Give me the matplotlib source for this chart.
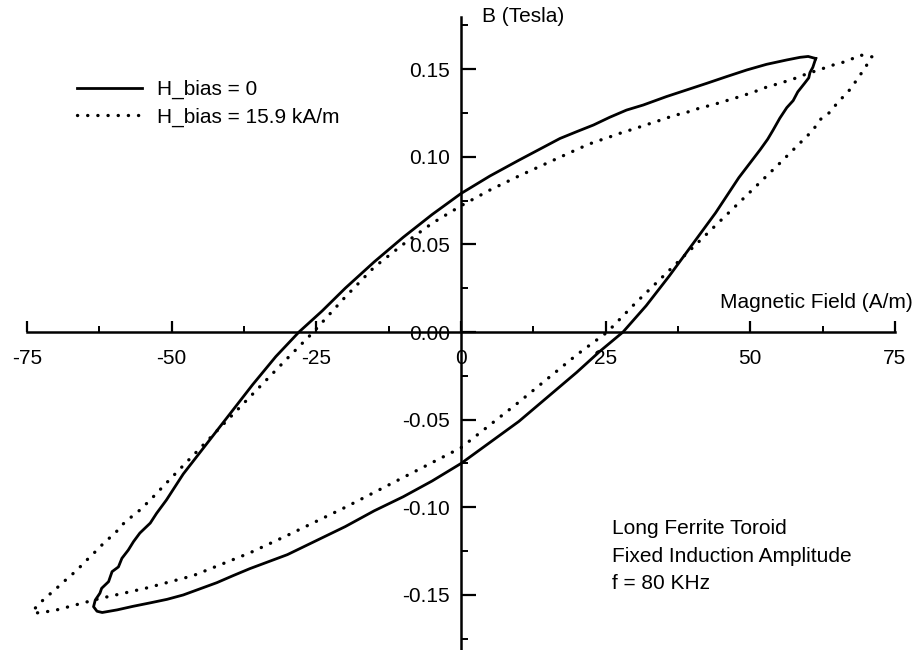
import matplotlib
matplotlib.use("Agg")
import matplotlib.pyplot as plt
from matplotlib.ticker import FixedLocator, FuncFormatter

plt.rcParams['font.family'] = ['Liberation Sans', 'DejaVu Sans']
plt.rcParams['axes.unicode_minus'] = False

# ---- data (H in A/m, B in Tesla) ----
# H_bias = 0 : descending (upper) branch, from top-right tip to bottom-left tip
solid_desc_H = [61.3, 60.0, 58.6, 56.3, 52.8, 49.4, 45.9, 42.5, 39.0, 35.5, 31.5, 28.6, 25.7,
                22.9, 20.0, 17.1, 10, 5, 0, -5, -10, -15, -20, -24, -28, -32, -36, -40, -44,
                -48, -50.9, -52.6, -53.7, -55.5, -56.6, -57.5, -58.6, -59.2, -60.3, -60.9,
                -62.1, -62.4, -63.2, -63.5, -62.9]
solid_desc_B = [0.1560, 0.1572, 0.1567, 0.1552, 0.1527, 0.1495, 0.1457, 0.1419, 0.1381, 0.1343,
                0.1295, 0.1266, 0.1225, 0.1181, 0.1143, 0.1104, 0.098, 0.089, 0.079, 0.067,
                0.054, 0.040, 0.025, 0.012, 0.0, -0.014, -0.030, -0.047, -0.064, -0.081,
                -0.0958, -0.1034, -0.109, -0.1147, -0.1196, -0.1244, -0.1291, -0.134, -0.1367,
                -0.1424, -0.1462, -0.149, -0.1529, -0.1567, -0.1593]
# H_bias = 0 : ascending (lower) branch, from bottom-left tip to top-right tip
solid_asc_H = [-62.0, -59.4, -56.7, -53.7, -50.8, -48.0, -45.1, -42.2, -39.4, -36.5, -30, -25,
               -20, -15, -10, -5, 0, 5, 10, 15, 20, 24, 28, 32, 36, 40, 44, 48, 51.7, 53.0,
               53.9, 55.1, 56.3, 57.4, 58.2, 59.4, 60.1, 60.3, 60.8, 61.3]
solid_asc_B = [-0.160, -0.1585, -0.1565, -0.1545, -0.1525, -0.150, -0.1465, -0.143, -0.139,
               -0.135, -0.127, -0.119, -0.111, -0.102, -0.094, -0.085, -0.075, -0.063, -0.051,
               -0.037, -0.023, -0.011, 0.0, 0.015, 0.032, 0.050, 0.068, 0.088, 0.104, 0.110,
               0.115, 0.122, 0.128, 0.132, 0.137, 0.142, 0.145, 0.148, 0.151, 0.1560]

# H_bias = 15.9 kA/m : descending (upper) branch
dot_desc_H = [71.0, 69.0, 66.7, 64.3, 62.0, 59.7, 57.4, 55.1, 52.8, 50.5, 48.2, 45.9, 43.6,
              41.3, 39.0, 36.7, 34.6, 32.1, 29.8, 27.5, 25.2, 22.9, 20.6, 10, 5, 0, -5, -10,
              -15, -20, -25.5, -30, -35, -40, -45, -50, -53.7, -55.5, -56.9, -58.6, -59.8,
              -61.5, -62.9, -64.4, -65.8, -67.3, -69.0, -70.2, -71.6, -72.8, -73.6, -73.9]
dot_desc_B = [0.157, 0.158, 0.1545, 0.1523, 0.1497, 0.1472, 0.1443, 0.1419, 0.1397, 0.1368,
              0.1343, 0.132, 0.1297, 0.1278, 0.1253, 0.1234, 0.121, 0.1183, 0.1158, 0.1134,
              0.1107, 0.1082, 0.105, 0.089, 0.081, 0.072, 0.062, 0.050, 0.037, 0.020, 0.0,
              -0.015, -0.032, -0.049, -0.066, -0.083, -0.0958, -0.1016, -0.1053, -0.1101,
              -0.1149, -0.1196, -0.1244, -0.1292, -0.1339, -0.1386, -0.1434, -0.1472, -0.151,
              -0.1547, -0.1576, -0.1605]
# H_bias = 15.9 kA/m : ascending (lower) branch
dot_asc_H = [-73.9, -70.4, -66.4, -62.4, -58.3, -54.3, -50.3, -46.3, -41.4, -36.5, -30, -20,
             -10, 0, 10, 20, 25.3, 30, 35, 40, 45, 50, 55, 59.1, 60.8, 62.0, 63.8, 65.1, 66.9,
             68.4, 69.8, 71.0]
dot_asc_B = [-0.1605, -0.159, -0.1555, -0.152, -0.149, -0.146, -0.1425, -0.139, -0.1325,
             -0.126, -0.116, -0.100, -0.083, -0.066, -0.040, -0.013, 0.0, 0.016, 0.032, 0.048,
             0.064, 0.080, 0.096, 0.1095, 0.115, 0.121, 0.1255, 0.131, 0.137, 0.1438, 0.1506,
             0.157]

series_labels = ["H_bias = 0", "H_bias = 15.9 kA/m"]
x_major = [-75, -50, -25, 0, 25, 50, 75]
x_minor = [-62.5, -37.5, -12.5, 12.5, 37.5, 62.5]
y_major = [-0.15, -0.10, -0.05, 0.0, 0.05, 0.10, 0.15]
y_minor = [-0.175, -0.125, -0.075, -0.025, 0.025, 0.075, 0.125, 0.175]
x_title = "Magnetic Field (A/m)"
y_title = "B (Tesla)"
note = "Long Ferrite Toroid\nFixed Induction Amplitude\nf = 80 KHz"

# ---- figure ----
W, H = 916, 650
fig = plt.figure(figsize=(W / 100, H / 100), dpi=100)
ax = fig.add_axes([27 / W, 0, 868 / W, 633 / H])
ax.set_xlim(-75, 75)
ax.set_ylim(-0.1814, 0.1797)

ax.plot(solid_desc_H + solid_asc_H, solid_desc_B + solid_asc_B, color='black', lw=2.0,
        solid_joinstyle='round', label=series_labels[0], clip_on=False)
ax.plot(dot_desc_H + dot_asc_H, dot_desc_B + dot_asc_B, color='black', lw=2.4,
        linestyle=(0, (0.05, 3.0)), dash_capstyle='round', label=series_labels[1],
        clip_on=False)

for s in ['top', 'right']:
    ax.spines[s].set_visible(False)
ax.spines['left'].set_position(('data', 0))
ax.spines['bottom'].set_position(('data', 0))
for s in ['left', 'bottom']:
    ax.spines[s].set_linewidth(1.8)

fs = 15
ax.xaxis.set_major_locator(FixedLocator(x_major))
ax.xaxis.set_minor_locator(FixedLocator(x_minor))
ax.yaxis.set_major_locator(FixedLocator(y_major))
ax.yaxis.set_minor_locator(FixedLocator(y_minor))
ax.xaxis.set_major_formatter(FuncFormatter(lambda v, p: f"{v:.0f}"))
ax.yaxis.set_major_formatter(FuncFormatter(lambda v, p: f"{v:.2f}"))
ax.tick_params(axis='x', which='major', direction='in', length=8, width=1.6,
               labelsize=fs, pad=12)
ax.tick_params(axis='x', which='minor', direction='in', length=4, width=1.4)
ax.tick_params(axis='y', which='major', direction='in', length=11, width=1.6,
               labelsize=fs, pad=8)
ax.tick_params(axis='y', which='minor', direction='in', length=5, width=1.4)

fig.text(913 / W, 1 - 302 / H, x_title, ha='right', va='center', fontsize=fs)
fig.text(482 / W, 1 - 17 / H, y_title, ha='left', va='center', fontsize=fs)
fig.text(612 / W, 1 - 556 / H, note, ha='left', va='center', fontsize=fs,
         linespacing=1.55)

ax.legend(loc='upper left', bbox_to_anchor=(77 / W, 1 - 80 / H),
          bbox_transform=fig.transFigure, frameon=False, fontsize=fs,
          handlelength=3.1, handletextpad=0.72, labelspacing=0.4, borderpad=0,
          borderaxespad=0)

fig.savefig("out.png", dpi=100)
